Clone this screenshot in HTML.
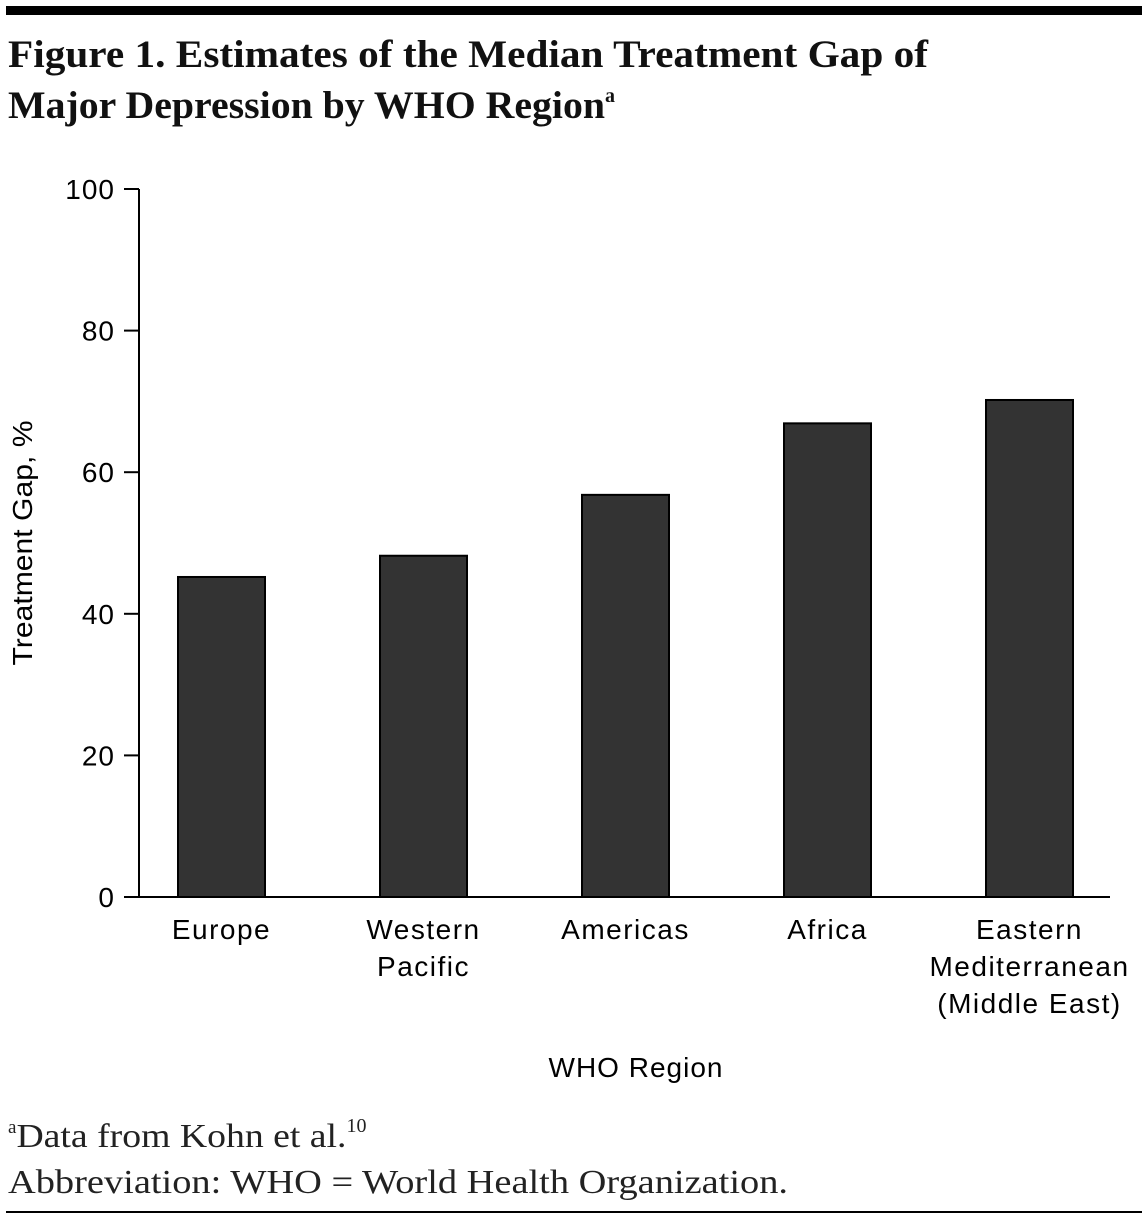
<!DOCTYPE html>
<html><head><meta charset="utf-8"><style>
html,body{margin:0;padding:0;background:#fff;}
svg{display:block;}
</style></head><body>
<svg id="chart" width="1142" height="1220" viewBox="0 0 1142 1220" xmlns="http://www.w3.org/2000/svg">
<rect x="6" y="6" width="1136" height="9" fill="#000"/>
<text x="8" y="67" font-family="Liberation Serif, serif" font-weight="bold" font-size="39" textLength="920" lengthAdjust="spacingAndGlyphs" fill="#111">Figure 1. Estimates of the Median Treatment Gap of</text>
<text x="8" y="118" font-family="Liberation Serif, serif" font-weight="bold" font-size="39" fill="#111"><tspan textLength="597" lengthAdjust="spacingAndGlyphs">Major Depression by WHO Region</tspan><tspan font-size="20" dy="-16">a</tspan></text>
<g id="axes"></g>
<g id="bars"></g>
<text transform="translate(32,543) rotate(-90)" text-anchor="middle" font-family="Liberation Sans, sans-serif" font-size="28" textLength="245" lengthAdjust="spacingAndGlyphs" fill="#000">Treatment Gap, %</text>
<text x="636" y="1077" text-anchor="middle" font-family="Liberation Sans, sans-serif" font-size="28" letter-spacing="1" fill="#000">WHO Region</text>
<text x="8" y="1147" font-family="Liberation Serif, serif" font-size="34" fill="#222"><tspan font-size="19" dy="-14">a</tspan><tspan dy="14" textLength="330" lengthAdjust="spacingAndGlyphs">Data from Kohn et al.</tspan><tspan font-size="20" dy="-15">10</tspan></text>
<text x="8" y="1193" font-family="Liberation Serif, serif" font-size="34" textLength="780" lengthAdjust="spacingAndGlyphs" fill="#222">Abbreviation: WHO = World Health Organization.</text>
<rect x="6" y="1211" width="1136" height="2" fill="#000"/>
</svg>
<script>
const categories = [["Europe"],["Western","Pacific"],["Americas"],["Africa"],["Eastern","Mediterranean","(Middle East)"]];
const values = [45.2, 48.2, 56.8, 66.9, 70.2];
const tickValues = [0, 20, 40, 60, 80, 100];
const tickLabels = ["0","20","40","60","80","100"];

const NS = "http://www.w3.org/2000/svg";
const y0 = 897, y100 = 189, axisX = 139;
function yScale(v){ return y0 - (y0 - y100) * v / 100; }
const firstCenter = 221.5, step = 202, barW = 87;
function xCenter(i){ return firstCenter + i * step; }
function mk(tag, attrs, parent){ const e = document.createElementNS(NS, tag); for (const k in attrs) e.setAttribute(k, attrs[k]); parent.appendChild(e); return e; }

const axes = document.getElementById('axes');
const yLine = mk('line', {x1:axisX, y1:y100, x2:axisX, y2:y0, stroke:'#000', 'stroke-width':2}, axes);


const xLine = mk('line', {x1:axisX-1, y1:y0, x2:1110, y2:y0, stroke:'#000', 'stroke-width':2}, axes);


tickValues.forEach((v, i) => {
  const y = yScale(v);
  const t = mk('line', {x1:axisX-15, y1:y, x2:axisX, y2:y, stroke:'#000', 'stroke-width':2}, axes);
  
  
  const l = mk('text', {x:115, y:y+10, 'text-anchor':'end', 'font-family':'Liberation Sans, sans-serif', 'font-size':28, 'letter-spacing':1, fill:'#000'}, axes);
  l.textContent = tickLabels[i];
  
  
});

const bars = document.getElementById('bars');
values.forEach((v, i) => {
  const cx = xCenter(i);
  const r = mk('rect', {x:cx - barW/2, y:yScale(v), width:barW, height:y0 - yScale(v), fill:'#333', stroke:'#000', 'stroke-width':2}, bars);
  
  
  categories[i].forEach((line, j) => {
    const t = mk('text', {x:cx, y:939 + j*37, 'text-anchor':'middle', 'font-family':'Liberation Sans, sans-serif', 'font-size':28, 'letter-spacing':1.5, fill:'#000'}, axes);
    t.textContent = line;
    
    
  });
});
</script>
</body></html>
